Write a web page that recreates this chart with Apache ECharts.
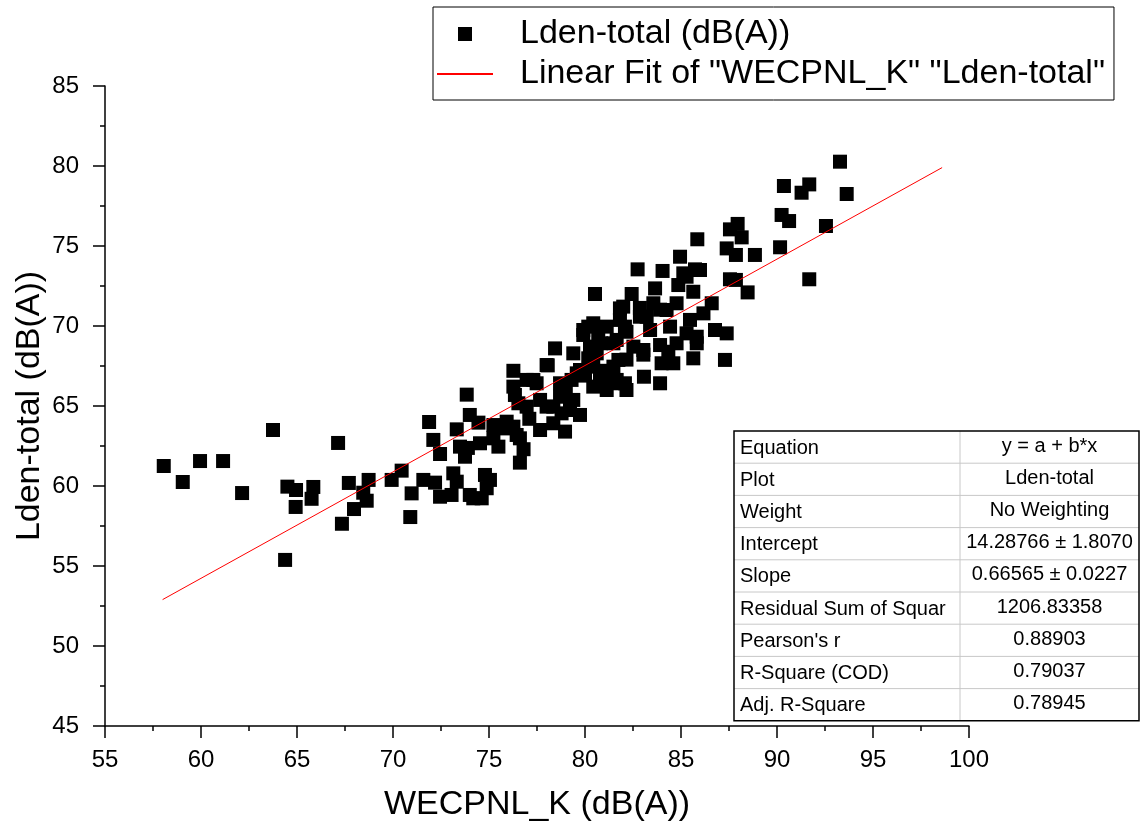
<!DOCTYPE html>
<html>
<head>
<meta charset="utf-8">
<script src="https://cdn.jsdelivr.net/npm/echarts@6/dist/echarts.min.js"></script>
<style>html,body{margin:0;padding:0;background:#fff}#c{width:1142px;height:831px}</style>
</head>
<body>
<div id="c"></div>
<script>
// ---- data ----
const wecpnl = [58.06,59.05,59.95,61.15,62.14,63.75,64.38,64.5,64.95,64.93,65.85,65.76,67.14,67.34,67.7,67.97,68.73,68.63,68.45,69.93,
70.45,70.97,70.9,71.58,71.88,72.1,72.19,72.45,72.45,73.05,73.14,73.32,73.32,73.49,73.75,73.84,73.9,74.0,74.0,74.45,
74.53,74.18,74.62,74.79,74.88,75.05,75.23,75.23,75.49,75.92,75.92,76.27,76.44,76.53,76.27,76.27,76.35,76.61,76.61,76.96,
76.96,77.31,77.48,77.66,77.66,78.0,78.06,78.35,78.35,78.44,78.7,78.7,78.78,78.96,79.22,79.3,79.39,79.39,79.57,79.74,
79.74,79.91,79.91,80.17,80.17,80.26,80.43,80.43,80.43,80.52,80.61,80.69,80.78,80.83,81.13,81.13,81.48,81.48,81.48,81.65,
81.65,81.74,81.82,81.82,81.99,82.08,82.08,82.16,82.16,82.16,82.43,82.52,82.74,82.86,82.86,83.04,83.04,83.07,83.21,83.39,
83.56,83.65,83.91,83.91,83.91,83.99,84.04,84.25,84.34,84.43,84.6,84.77,84.77,84.86,84.95,85.12,85.29,85.47,85.64,85.64,
85.73,85.82,85.82,85.85,85.99,86.17,86.6,86.77,87.29,87.38,87.38,87.55,87.55,87.86,87.86,87.95,88.16,88.47,88.85,90.16,
90.24,90.36,90.63,91.28,91.68,91.68,92.55,93.28,93.63,85.29,78.0,77.1,80.0,81.0,76.8,79.0];
const ldenTotal = [61.25,60.25,61.56,61.56,59.56,63.5,55.38,59.96,59.75,58.69,59.94,59.2,62.69,57.64,60.19,58.56,60.38,59.08,59.58,60.38,
60.96,59.54,58.06,60.38,64.0,62.88,60.21,62.0,59.33,59.44,60.79,60.27,63.54,62.46,61.83,65.71,62.38,64.44,59.44,63.96,
62.67,59.23,59.23,60.69,59.86,60.38,62.98,63.81,62.46,63.6,64.02,63.71,63.19,65.17,66.21,67.2,65.69,61.46,62.98,64.96,
66.63,66.63,66.42,63.5,65.38,64.96,67.54,63.92,64.96,68.6,66.42,65.58,64.54,63.4,64.75,66.63,68.29,65.38,67.04,64.44,
67.25,69.44,69.75,69.96,67.98,68.71,67.46,66.21,70.17,72.0,68.29,69.54,66.83,68.92,69.96,66.0,68.92,66.42,67.46,66.63,
69.13,67.88,71.1,70.38,71.21,69.96,66.42,66.0,67.9,69.64,72.0,68.71,73.54,70.58,71.13,68.5,68.21,66.83,70.58,69.75,
71.42,72.35,66.42,68.81,71.02,67.67,73.44,71.0,68.39,69.96,67.67,71.42,68.92,72.56,74.33,73.29,69.54,70.38,72.14,67.98,
73.54,68.92,69.33,75.42,73.5,70.79,71.42,69.75,67.88,69.54,74.85,76.04,72.92,72.88,74.44,76.38,75.54,72.1,74.44,74.92,
76.94,78.75,76.56,78.33,78.85,72.92,76.25,80.27,78.25,73.08,67.56,64.2,66.9,67.2,62.3,65.9];
const fitX = [58.0, 98.6];
const fitY = [52.9, 79.9];
const xTicks = { min: 55, max: 100, step: 5 };
const yTicks = { min: 45, max: 85, step: 5 };
const seriesNames = ['Lden-total (dB(A))', 'Linear Fit of "WECPNL_K" "Lden-total"'];
const tableLabels = ['Equation','Plot','Weight','Intercept','Slope','Residual Sum of Squar',"Pearson's r",'R-Square (COD)','Adj. R-Square'];
const tableValues = ['y = a + b*x','Lden-total','No Weighting','14.28766 \u00b1 1.8070','0.66565 \u00b1 0.0227','1206.83358','0.88903','0.79037','0.78945'];

// ---- build ----
const FONT = "'Liberation Sans', Arial, sans-serif";
const scatterData = wecpnl.map((x, i) => [x, ldenTotal[i]]);
const fitData = fitX.map((x, i) => [x, fitY[i]]);

const chart = echarts.init(document.getElementById('c'), null, { renderer: 'canvas' });

// table graphic
const tb = { left: 734, top: 431, colX: 960, right: 1139, rowH: 32.2 };
const tableEls = [];
const nRows = tableLabels.length;
for (let i = 1; i < nRows; i++) {
  const y = tb.top + i * tb.rowH;
  tableEls.push({ type: 'line', shape: { x1: tb.left, y1: y, x2: tb.right, y2: y }, style: { stroke: '#c8c8c8', lineWidth: 1 } });
}
tableEls.push({ type: 'line', shape: { x1: tb.colX, y1: tb.top, x2: tb.colX, y2: tb.top + nRows * tb.rowH }, style: { stroke: '#c8c8c8', lineWidth: 1 } });
tableEls.push({ type: 'rect', shape: { x: tb.left, y: tb.top, width: tb.right - tb.left, height: nRows * tb.rowH }, style: { fill: null, stroke: '#000', lineWidth: 1.5 } });
tableLabels.forEach((t, i) => {
  tableEls.push({ type: 'text', x: tb.left + 6, y: tb.top + (i + 0.5) * tb.rowH + 1,
    style: { text: t, font: '20px ' + FONT, fill: '#000', textAlign: 'left', textVerticalAlign: 'middle' } });
});
tableValues.forEach((t, i) => {
  tableEls.push({ type: 'text', x: (tb.colX + tb.right) / 2, y: tb.top + (i + 0.5) * tb.rowH - 1,
    style: { text: t, font: '20px ' + FONT, fill: '#000', textAlign: 'center', textVerticalAlign: 'middle' } });
});

const axisCommon = {
  axisLine: { show: true, onZero: false, lineStyle: { color: '#000', width: 1.5 } },
  axisTick: { show: true, inside: false, length: 12, lineStyle: { color: '#000', width: 1.5 } },
  minorTick: { show: true, splitNumber: 2, length: 5, lineStyle: { color: '#000', width: 1.5 } },
  splitLine: { show: false },
  nameTextStyle: { fontSize: 34, fontFamily: FONT, color: '#000' },
  nameLocation: 'middle',
  nameMoveOverlap: false
};

chart.setOption({
  animation: false,
  backgroundColor: '#fff',
  grid: { left: 105, right: 173, top: 86, bottom: 105, containLabel: false },
  xAxis: Object.assign({}, axisCommon, {
    type: 'value', min: xTicks.min, max: xTicks.max, interval: xTicks.step,
    name: 'WECPNL_K (dB(A))', nameGap: 62,
    axisLabel: { fontSize: 24, fontFamily: FONT, color: '#000', margin: 22 }
  }),
  yAxis: Object.assign({}, axisCommon, {
    type: 'value', min: yTicks.min, max: yTicks.max, interval: yTicks.step,
    name: 'Lden-total (dB(A))', nameGap: 58,
    axisLabel: { fontSize: 24, fontFamily: FONT, color: '#000', margin: 26 }
  }),
  legend: {
    orient: 'vertical', left: 433, top: 7,
    borderColor: '#000', borderWidth: 1, borderRadius: 0,
    padding: [10, 9, 9, 3], itemGap: 6, itemWidth: 56, itemHeight: 14,
    selectedMode: false,
    textStyle: { fontSize: 34, fontFamily: FONT, color: '#000', padding: [0, 0, 0, 22] },
    data: [
      { name: seriesNames[0], icon: 'path://M0,0L10,0L10,10L0,10Z' },
      { name: seriesNames[1], itemStyle: { color: 'rgba(0,0,0,0)', borderWidth: 0 } }
    ]
  },
  series: [
    {
      name: seriesNames[0], type: 'scatter', symbol: 'rect', symbolSize: 14,
      itemStyle: { color: '#000', opacity: 1 }, data: scatterData, z: 3
    },
    {
      name: seriesNames[1], type: 'line', showSymbol: false, symbol: 'none',
      lineStyle: { color: '#ff0000', width: 1 }, itemStyle: { color: '#ff0000' },
      data: fitData, z: 4
    }
  ],
  graphic: { elements: tableEls }
});
</script>
</body>
</html>
